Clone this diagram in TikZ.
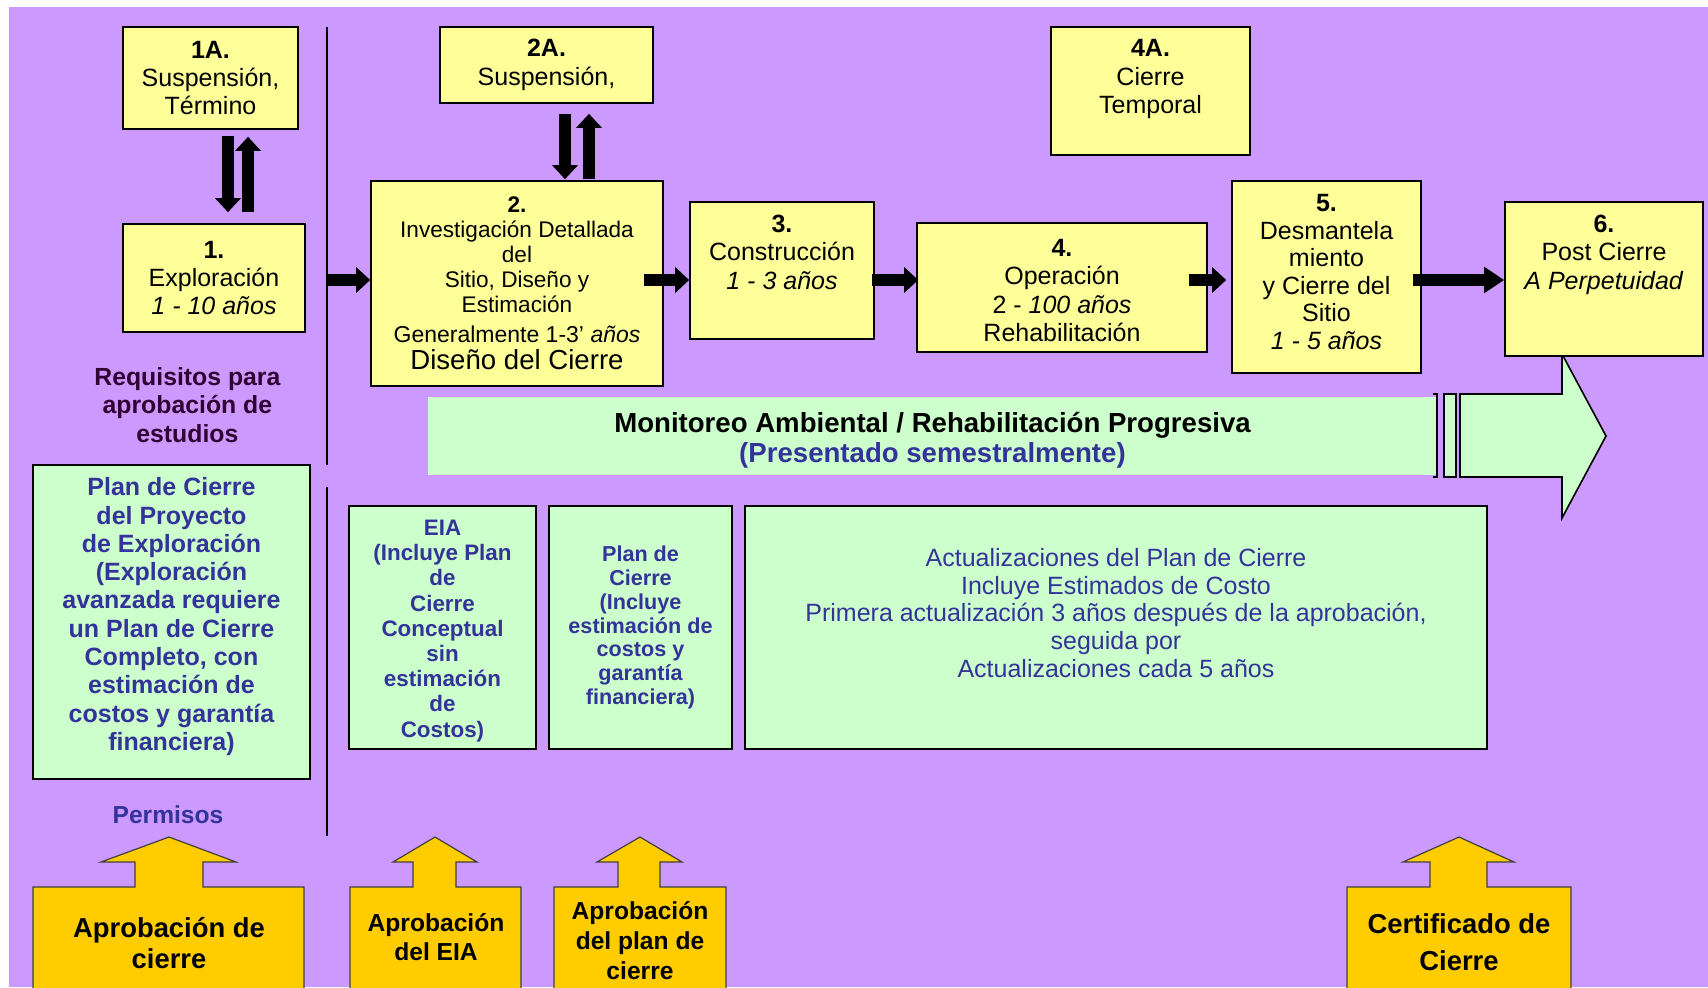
\documentclass[tikz,border=0pt]{standalone}
\usepackage{fontspec}
\setmainfont{Liberation Sans}
\usetikzlibrary{arrows.meta}
\usetikzlibrary{positioning}
\definecolor{bgpurple}{HTML}{CC99FF}
\definecolor{boxyellow}{HTML}{FFFF99}
\definecolor{boxgreen}{HTML}{CCFFCC}
\definecolor{approve}{HTML}{FFCC00}
\definecolor{txtblue}{HTML}{333399}
\definecolor{txtdark}{HTML}{330033}
\newcommand{\boxfont}{\fontsize{12.5}{14.2}\selectfont}
\tikzset{
    ybox/.style={draw=black, line width=0.8pt, fill=boxyellow, align=center, inner sep=0pt, font=\boxfont},
    gbox/.style={draw=black, line width=0.8pt, fill=boxgreen, align=center, inner sep=0pt, text=txtblue},
    btext/.style={align=center, inner sep=0pt, font=\boxfont},
    fatarrow/.style={draw=black, line width=6pt, -{Triangle[length=7pt,width=12.5pt]}},
    permit/.style={draw=black!75, line width=0.6pt, fill=approve},
    ptext/.style={align=center, inner sep=0pt, font=\bfseries\fontsize{13.7}{15.3}\selectfont}
}
\begin{document}
\begin{tikzpicture}[x=1pt, y=-1pt]
\clip (0, 0) rectangle (854, 493.5);
\fill[white] (0, 0) rectangle (854, 493.5);
\fill[bgpurple] (4.5, 3.5) rectangle (854, 493.5);

\coordinate (divtop) at (163.5, 13.5);
\coordinate (divmid) at (163.5, 232.5);
\coordinate (divlow) at (163.5, 243.5);
\coordinate (divend) at (163.5, 418);
\coordinate (flow) at (0, 140);
\draw[line width=0.7pt] (divtop) -- (divmid) ;
\draw[line width=0.7pt] (divlow) -- (divend) ;

\node[fill=boxgreen, minimum width=504.5pt, minimum height=39pt, inner sep=0pt] (mon) at (466.25, 218) {};
\node[btext, font=\bfseries\fontsize{13.8}{14.7}\selectfont, below=7.8pt of mon.north] (mont)
  {Monitoreo Ambiental / Rehabilitación Progresiva\\\textcolor{txtblue}{(Presentado semestralmente)}};
\draw[line width=0.6pt]
  (716.5, 197) -- (718.5, 197) -- (718.5, 238.5) -- (716.5, 238.5) ;
\draw[fill=boxgreen, line width=0.6pt] (722, 197) rectangle (728, 238.5) ;
\draw[fill=boxgreen, line width=0.8pt]
  (730, 197) -- (781, 197) -- (781, 177) -- (803, 218) -- (781, 259) -- (781, 238.5) -- (730, 238.5) -- cycle ;

\node[ybox, minimum width=87.5pt, minimum height=51pt] (s1) at (105.25, 39)
  {\textbf{1A.}\\Suspensión,\\Término};
\node[ybox, minimum width=91pt, minimum height=54pt] (e1) at (107, 139)
  {\textbf{1.}\\Exploración\\\textit{1 - 10 años}};
\node[ybox, minimum width=106.5pt, minimum height=38pt] (s2) at (273.25, 32.5)
  {\textbf{2A.}\\Suspensión,};
\node[ybox, minimum width=146pt, minimum height=102.5pt, font=\fontsize{11.3}{12.5}\selectfont] (e2) at (258.5, 141.75)
  {\textbf{2.}\\Investigación Detallada\\del\\Sitio, Diseño y\\Estimación\\[2.5pt]
   {\fontsize{11.5}{12.5}\selectfont Generalmente 1-3' \textit{años}}\\[1pt]
   {\fontsize{13.8}{15}\selectfont Diseño del Cierre}};
\node[ybox, minimum width=92pt, minimum height=68.5pt] (e3) at (391, 135.25) {};
\node[btext, below=6.7pt of e3.north] (e3t) {\textbf{3.}\\Construcción\\\textit{1 - 3 años}};
\node[ybox, minimum width=145pt, minimum height=64.5pt] (e4) at (531, 143.75) {};
\node[btext, below=8.2pt of e4.north] (e4t) {\textbf{4.}\\Operación\\2 - \textit{100 años}\\Rehabilitación};
\node[ybox, minimum width=99.5pt, minimum height=64pt] (s4) at (575.25, 45.5) {};
\node[btext, below=6.5pt of s4.north] (s4t) {\textbf{4A.}\\Cierre\\Temporal};
\node[ybox, minimum width=94.5pt, minimum height=96pt] (e5) at (663.25, 138.5) {};
\node[btext, font=\fontsize{12.5}{13.8}\selectfont, below=6.8pt of e5.north] (e5t)
  {\textbf{5.}\\Desmantela\\miento\\y Cierre del\\Sitio\\\textit{1 - 5 años}};
\node[ybox, minimum width=99pt, minimum height=77pt] (e6) at (802, 139.5) {};
\node[btext, below=6.7pt of e6.north] (e6t) {\textbf{6.}\\Post Cierre\\\textit{A Perpetuidad}};

\draw[style={fatarrow}, shorten <=3pt, shorten >=5.5pt]
  ([xshift=8.75pt]s1.south) -- ([xshift=8.75pt]s1.south |- e1.north) ;
\draw[style={fatarrow}, shorten <=5.5pt, shorten >=3.5pt]
  ([xshift=18.75pt]s1.south |- e1.north) -- ([xshift=18.75pt]s1.south) ;
\draw[style={fatarrow}, shorten <=5pt, shorten >=0.5pt]
  ([xshift=9.25pt]s2.south) -- ([xshift=9.25pt]s2.south |- e2.north) ;
\draw[style={fatarrow}, shorten <=0.5pt, shorten >=5pt]
  ([xshift=21.25pt]s2.south |- e2.north) -- ([xshift=21.25pt]s2.south) ;

\draw[style={fatarrow}]
  (divtop |- flow) -- (e2.west |- flow) ;
\draw[style={fatarrow}]
  ([xshift=-10pt]e2.east |- flow) -- (e3.west |- flow) ;
\draw[style={fatarrow}]
  ([xshift=-1.5pt]e3.east |- flow) -- ([xshift=1pt]e4.west |- flow) ;
\draw[style={fatarrow}]
  ([xshift=-9.5pt]e4.east |- flow) -- ([xshift=-2.5pt]e5.west |- flow) ;
\draw[style={fatarrow}, -{Triangle[length=10pt,width=12.5pt]}]
  ([xshift=-4.5pt]e5.east |- flow) -- (e6.west |- flow) ;

\node[align=center, inner sep=0pt, text=txtdark, font=\bfseries\fontsize{12.4}{14.4}\selectfont] (req) at (93.7, 202.5)
  {Requisitos para\\aprobación de\\estudios};
\node[gbox, minimum width=138.5pt, minimum height=157pt] (gexp) at (85.75, 311) {};
\node[btext, text=txtblue, font=\bfseries\fontsize{12.5}{14.15}\selectfont, below=6.5pt of gexp.north] (gexpt)
  {Plan de Cierre\\del Proyecto\\de Exploración\\(Exploración\\avanzada requiere\\un Plan de Cierre\\Completo, con\\estimación de\\costos y garantía\\financiera)};
\node[inner sep=0pt, text=txtblue, font=\bfseries\fontsize{12.3}{14}\selectfont] (perm) at (84, 407.5) {Permisos};
\node[gbox, minimum width=93.5pt, minimum height=121.5pt] (geia) at (221.25, 313.75) {};
\node[btext, text=txtblue, font=\bfseries\fontsize{11.2}{12.6}\selectfont, below=7.2pt of geia.north] (geiat)
  {EIA\\(Incluye Plan\\de\\Cierre\\Conceptual\\sin\\estimación\\de\\Costos)};
\node[gbox, minimum width=91.5pt, minimum height=121.5pt, font=\bfseries\fontsize{10.8}{11.9}\selectfont] (gplan) at (320.25, 313.75)
  {Plan de\\Cierre\\(Incluye\\estimación de\\costos y\\garantía\\financiera)};
\node[gbox, minimum width=371pt, minimum height=121.5pt] (gupd) at (558, 313.75) {};
\node[btext, text=txtblue, font=\fontsize{12.5}{13.9}\selectfont, below=21.3pt of gupd.north] (gupdt)
  {Actualizaciones del Plan de Cierre\\Incluye Estimados de Costo\\Primera actualización 3 años después de la aprobación,\\seguida por\\Actualizaciones cada 5 años};

\filldraw[style={permit}]
  (16.5, 500) -- (16.5, 443.5) -- (67.5, 443.5) -- (67.5, 431) -- (50.5, 431) -- (84.5, 418.5)
  -- (118, 431) -- (101.5, 431) -- (101.5, 443.5) -- (152, 443.5) -- (152, 500) ;
\filldraw[style={permit}]
  (175, 500) -- (175, 443.5) -- (206.5, 443.5) -- (206.5, 431) -- (196.5, 431) -- (217.5, 418.5)
  -- (238.5, 431) -- (228, 431) -- (228, 443.5) -- (260.5, 443.5) -- (260.5, 500) ;
\filldraw[style={permit}]
  (277, 500) -- (277, 443.5) -- (309, 443.5) -- (309, 431) -- (298.5, 431) -- (320, 418.5)
  -- (341, 431) -- (330, 431) -- (330, 443.5) -- (363, 443.5) -- (363, 500) ;
\filldraw[style={permit}]
  (673.5, 500) -- (673.5, 443.5) -- (715, 443.5) -- (715, 431) -- (701.5, 431) -- (729.5, 418.5)
  -- (757, 431) -- (743.5, 431) -- (743.5, 443.5) -- (785.5, 443.5) -- (785.5, 500) ;
\node[style={ptext}] (ap1) at (84.5, 471.5) {Aprobación de\\cierre};
\node[style={ptext}, font=\bfseries\fontsize{12.3}{14.7}\selectfont] (ap2) at (218, 468.5) {Aprobación\\del EIA};
\node[style={ptext}, font=\bfseries\fontsize{12.3}{15}\selectfont] (ap3) at (320, 470.5) {Aprobación\\del plan de\\cierre};
\node[style={ptext}, font=\bfseries\fontsize{13.7}{18.5}\selectfont] (ap4) at (729.5, 471) {Certificado de\\Cierre};
\end{tikzpicture}
\end{document}
